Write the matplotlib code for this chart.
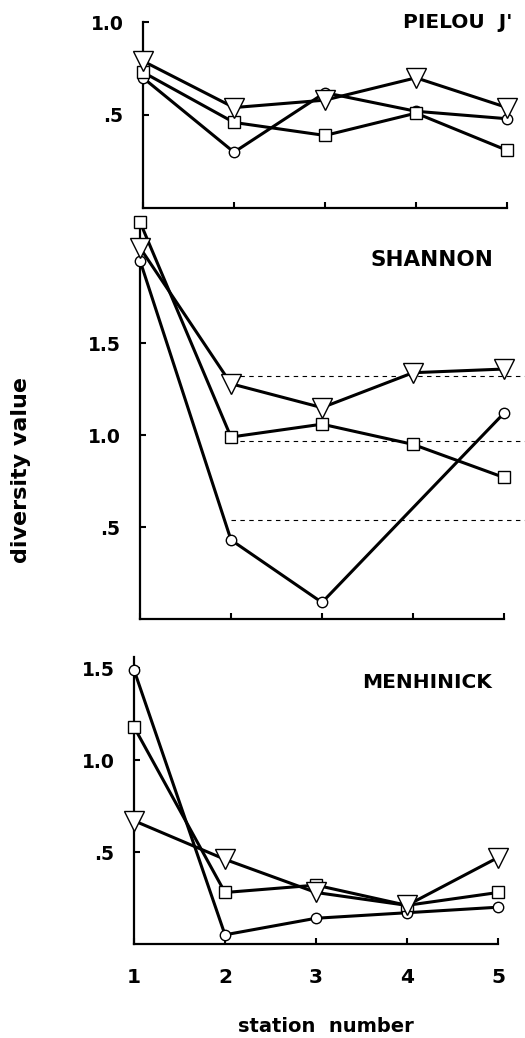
import numpy as np
import matplotlib
matplotlib.use('Agg')
import matplotlib.pyplot as plt

plt.rcParams['font.family'] = ['DejaVu Sans']
plt.rcParams['font.weight'] = 'bold'

stations = [1, 2, 3, 4, 5]

# Pielou J'
pielou_tri = [0.79, 0.54, 0.58, 0.70, 0.54]
pielou_sq = [0.73, 0.46, 0.39, 0.51, 0.31]
pielou_circ = [0.70, 0.30, 0.62, 0.52, 0.48]

# Shannon (circle has no value at station 4)
shannon_tri = [2.02, 1.28, 1.15, 1.34, 1.36]
shannon_sq = [2.16, 0.99, 1.06, 0.95, 0.77]
shannon_circ_st = [1, 2, 3, 5]
shannon_circ = [1.95, 0.43, 0.09, 1.12]
shannon_dashed = [1.32, 0.97, 0.54]

# Menhinick
menh_tri = [0.67, 0.46, 0.28, 0.21, 0.47]
menh_sq = [1.18, 0.28, 0.32, 0.21, 0.28]
menh_circ = [1.49, 0.05, 0.14, 0.17, 0.20]

fig = plt.figure(figsize=(5.25, 10.38), dpi=100)

W, H = 525.0, 1038.0


def make_ax(left, bottom, top, ymax, yticks, ylabels, xlabels=False):
    ax = fig.add_axes([left / W, 1 - bottom / H, 364 / W, (bottom - top) / H])
    ax.set_xlim(1, 5)
    ax.set_ylim(0, ymax)
    for s in ['top', 'right']:
        ax.spines[s].set_visible(False)
    for s in ['left', 'bottom']:
        ax.spines[s].set_linewidth(1.6)
    ax.set_yticks(yticks)
    ax.set_yticklabels(ylabels)
    ax.set_xticks(stations)
    ax.tick_params(axis='both', direction='in', length=4, width=1.5, labelsize=13.5)
    ax.tick_params(axis='y', pad=14)
    if xlabels:
        ax.set_xticklabels([str(s) for s in stations])
        ax.tick_params(axis='x', pad=17, labelsize=14.5)
    else:
        ax.set_xticklabels([])
    return ax


def series(ax, x, y, marker, ms):
    ax.plot(x, y, color='black', lw=2.2, marker=marker, ms=ms, mfc='white',
            mec='black', mew=1.0, clip_on=False, zorder=3)


ax1 = make_ax(143, 208, 22, 1.0, [0.5, 1.0], ['.5', '1.0'])
series(ax1, stations, pielou_circ, 'o', 7.5)
series(ax1, stations, pielou_sq, 's', 8)
series(ax1, stations, pielou_tri, 'v', 14)
ax1.text(512 / W, 1 - 22 / H, "PIELOU  J'", transform=fig.transFigure,
         ha='right', va='center', fontsize=14.5)

ax2 = make_ax(140, 619, 222, 2.16, [0.5, 1.0, 1.5], ['.5', '1.0', '1.5'])
for lvl in shannon_dashed:
    ax2.axhline(lvl, xmin=0.25, xmax=1.06, color='black', lw=0.8,
                ls=(0, (4, 4)), clip_on=False, zorder=1)
series(ax2, shannon_circ_st, shannon_circ, 'o', 7.5)
series(ax2, stations, shannon_sq, 's', 8)
series(ax2, stations, shannon_tri, 'v', 14)
ax2.text(493 / W, 1 - 260 / H, 'SHANNON', transform=fig.transFigure,
         ha='right', va='center', fontsize=15.5)

ax3 = make_ax(134, 944, 657, 1.56, [0.5, 1.0, 1.5], ['.5', '1.0', '1.5'], xlabels=True)
series(ax3, stations, menh_circ, 'o', 7.5)
series(ax3, stations, menh_sq, 's', 8)
series(ax3, stations, menh_tri, 'v', 14)
ax3.text(492 / W, 1 - 683 / H, 'MENHINICK', transform=fig.transFigure,
         ha='right', va='center', fontsize=14.5)

fig.text(21 / W, 1 - 470 / H, 'diversity value', rotation=90,
         ha='center', va='center', fontsize=16)
fig.text(326 / W, 1 - 1026 / H, 'station  number', ha='center',
         va='center', fontsize=14)

fig.savefig('out.png', dpi=100)
